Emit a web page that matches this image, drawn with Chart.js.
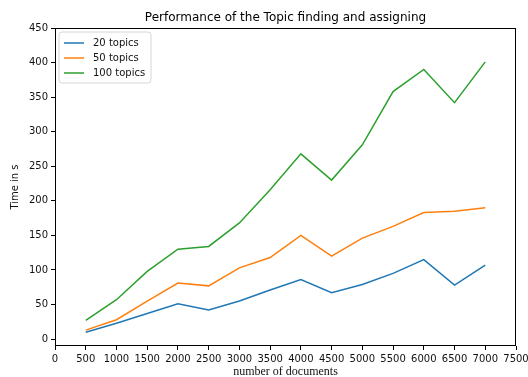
<!DOCTYPE html>
<html>
<head>
<meta charset="utf-8">
<script src="https://cdn.jsdelivr.net/npm/chart.js@4"></script>
<style>
  html, body { margin: 0; padding: 0; background: #fff; }
  #wrap { width: 528px; height: 377px; }
</style>
</head>
<body>
<div id="wrap"><canvas id="chart" width="528" height="377"></canvas></div>
<script>
const documents = [500, 1000, 1500, 2000, 2500, 3000, 3500, 4000, 4500, 5000, 5500, 6000, 6500, 7000];
const topics20 = [10, 23, 37, 51, 42, 55, 71, 86, 67, 79, 95, 115, 78, 107];
const topics50 = [13, 28, 55, 81, 77, 103, 118, 150, 120, 146, 163, 183, 185, 190];
const topics100 = [27, 57, 98, 130, 134, 168, 216, 268, 230, 281, 358, 390, 342, 401];
const yTicks = [0, 50, 100, 150, 200, 250, 300, 350, 400, 450];
const xTicks = [0, 500, 1000, 1500, 2000, 2500, 3000, 3500, 4000, 4500, 5000, 5500, 6000, 6500, 7000, 7500];
const chartTitle = 'Performance of the Topic finding and assigning';

const sans = "'DejaVu Sans', sans-serif";

function toPoints(values) {
    return documents.map((x, i) => ({ x: x, y: values[i] }));
}

function series(label, values, color) {
    return {
        label: label,
        data: toPoints(values),
        borderColor: color,
        backgroundColor: color,
        borderWidth: 1.5,
        pointRadius: 0,
        tension: 0,
        fill: false
    };
}

// box round the plot, title over the plot and the legend in the upper left corner
const framePlugin = {
    id: 'frame',
    afterDatasetsDraw(chart) {
        const ctx = chart.ctx;
        const a = chart.chartArea;
        ctx.save();
        ctx.strokeStyle = '#000';
        ctx.lineWidth = 1;
        ctx.strokeRect(a.left + 0.5, a.top + 0.5, a.right - a.left - 1, a.bottom - a.top - 1);

        ctx.fillStyle = '#000';
        ctx.font = '12px ' + sans;
        ctx.textAlign = 'center';
        ctx.textBaseline = 'middle';
        ctx.fillText(chartTitle, (a.left + a.right) / 2, a.top - 10);
        ctx.textAlign = 'left';

        const x0 = a.left + 4, y0 = a.top + 4, w = 92, h = 51, r = 3;
        ctx.beginPath();
        ctx.moveTo(x0 + r, y0);
        ctx.arcTo(x0 + w, y0, x0 + w, y0 + h, r);
        ctx.arcTo(x0 + w, y0 + h, x0, y0 + h, r);
        ctx.arcTo(x0, y0 + h, x0, y0, r);
        ctx.arcTo(x0, y0, x0 + w, y0, r);
        ctx.closePath();
        ctx.fillStyle = 'rgba(255,255,255,0.8)';
        ctx.fill();
        ctx.strokeStyle = '#d6d6d6';
        ctx.stroke();

        ctx.font = '10px ' + sans;
        chart.data.datasets.forEach((ds, i) => {
            const y = y0 + 11 + i * 15;
            ctx.beginPath();
            ctx.strokeStyle = ds.borderColor;
            ctx.lineWidth = 1.5;
            ctx.moveTo(x0 + 5, y);
            ctx.lineTo(x0 + 25, y);
            ctx.stroke();
            ctx.fillStyle = '#111';
            ctx.fillText(ds.label, x0 + 34, y);
        });
        ctx.restore();
    }
};

new Chart(document.getElementById('chart'), {
    type: 'line',
    data: {
        datasets: [
            series('20 topics', topics20, '#1f77b4'),
            series('50 topics', topics50, '#ff7f0e'),
            series('100 topics', topics100, '#2ca02c')
        ]
    },
    options: {
        responsive: false,
        animation: false,
        layout: { padding: { left: 0, right: 12, top: 28, bottom: 0 } },
        plugins: {
            legend: { display: false },
            tooltip: { enabled: false },
            title: { display: false }
        },
        scales: {
            x: {
                type: 'linear',
                min: 0,
                max: 7500,
                afterBuildTicks(scale) { scale.ticks = xTicks.map(v => ({ value: v })); },
                afterFit(scale) {
                    scale.height = 31;
                    scale.paddingLeft = 0;
                    scale.paddingRight = 0;
                },
                ticks: {
                    color: '#111',
                    font: { family: sans, size: 10 },
                    padding: 3,
                    maxRotation: 0,
                    autoSkip: false,
                    callback: v => String(v)
                },
                grid: { display: true, drawOnChartArea: false, tickLength: 4, color: '#000' },
                border: { display: false },
                title: {
                    display: true,
                    text: 'number of documents',
                    color: '#111',
                    font: { family: "'Liberation Serif', serif", size: 12 },
                    padding: { top: 0, bottom: -2 }
                }
            },
            y: {
                min: -10,
                max: 450,
                afterBuildTicks(scale) { scale.ticks = yTicks.map(v => ({ value: v })); },
                afterFit(scale) {
                    scale.width = 55;
                    scale.paddingTop = 0;
                    scale.paddingBottom = 0;
                },
                ticks: { color: '#111', font: { family: sans, size: 10 }, padding: 3 },
                grid: { display: true, drawOnChartArea: false, tickLength: 4, color: '#000' },
                border: { display: false },
                title: {
                    display: true,
                    text: 'Time in s',
                    color: '#111',
                    font: { family: sans, size: 10 },
                    padding: { top: 9, bottom: 0 }
                }
            }
        }
    },
    plugins: [framePlugin]
});
</script>
</body>
</html>
